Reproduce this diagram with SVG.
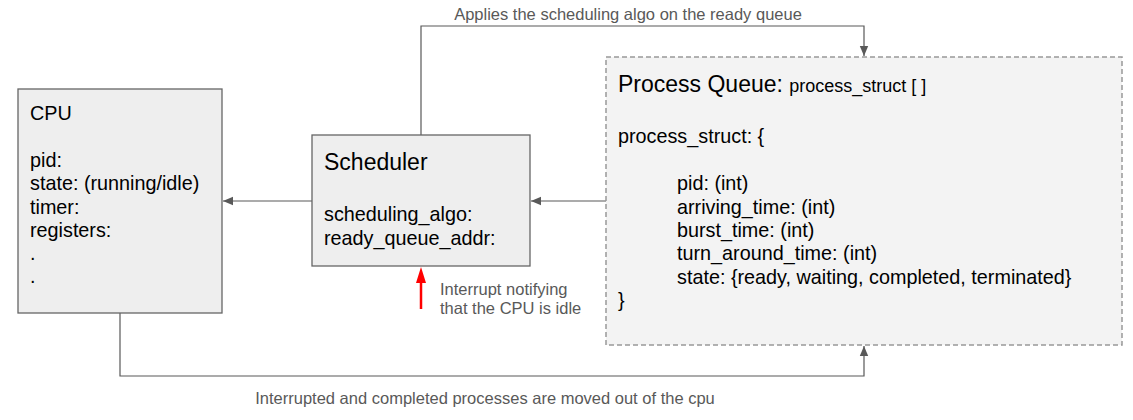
<svg xmlns="http://www.w3.org/2000/svg" width="1133" height="420" viewBox="0 0 1133 420">
<defs>
<style>
.box{fill:#eeeeee;stroke:#666666;stroke-width:1.3}
.pq{fill:#f3f3f3;stroke:#999999;stroke-width:1.5;stroke-dasharray:5,3}
.t{font-family:"Liberation Sans",Arial,sans-serif;font-size:19.8px;fill:#000}
.h{font-family:"Liberation Sans",Arial,sans-serif;font-size:23px;fill:#000}
.lbl{font-family:"Liberation Sans",Arial,sans-serif;font-size:16.5px;fill:#595959}
.c{fill:none;stroke:#595959;stroke-width:1.2}
</style>
<marker id="ah" markerWidth="10" markerHeight="10" viewBox="0 0 10 10" refX="10" refY="5" orient="auto" markerUnits="userSpaceOnUse">
<path d="M0,0.8 L10,5 L0,9.2 Z" fill="#595959"/>
</marker>
</defs>
<rect width="1133" height="420" fill="#ffffff"/>
<g id="connectors">
<path class="c" d="M312,201 H223" marker-end="url(#ah)"/>
<path class="c" d="M606,201 H531" marker-end="url(#ah)"/>
<path class="c" d="M421,135 V26 H864 V56" marker-end="url(#ah)"/>
<path class="c" d="M120,313 V376 H864 V346" marker-end="url(#ah)"/>
<text class="lbl" x="628" y="20" text-anchor="middle">Applies the scheduling algo on the ready queue</text>
<text class="lbl" x="485" y="404" text-anchor="middle">Interrupted and completed processes are moved out of the cpu</text>
</g>
<g id="interrupt">
<line x1="421" y1="309" x2="421" y2="282" stroke="#ff0000" stroke-width="2.5"/>
<path d="M421,267 L426,283 L416,283 Z" fill="#ff0000"/>
<text class="lbl" x="440" y="295">Interrupt notifying</text>
<text class="lbl" x="440" y="314">that the CPU is idle</text>
</g>
<g id="cpu">
<rect class="box" x="18" y="89" width="204" height="224"/>
<text class="t" x="30" y="120">CPU</text>
<text class="t" x="30" y="167">pid:</text>
<text class="t" x="30" y="190">state: (running/idle)</text>
<text class="t" x="30" y="214">timer:</text>
<text class="t" x="30" y="237">registers:</text>
<text class="t" x="30" y="260">.</text>
<text class="t" x="30" y="283">.</text>
</g>
<g id="scheduler">
<rect class="box" x="312" y="135" width="218" height="131"/>
<text class="h" x="324" y="170">Scheduler</text>
<text class="t" x="324" y="221">scheduling_algo:</text>
<text class="t" x="324" y="245">ready_queue_addr:</text>
</g>
<g id="process-queue">
<rect class="pq" x="606" y="57" width="516" height="288"/>
<text class="h" x="618" y="92">Process Queue: <tspan style="font-size:18px">process_struct [ ]</tspan></text>
<text class="t" x="618" y="143">process_struct: {</text>
<text class="t" x="677" y="190">pid: (int)</text>
<text class="t" x="677" y="214">arriving_time: (int)</text>
<text class="t" x="677" y="237">burst_time: (int)</text>
<text class="t" x="677" y="260">turn_around_time: (int)</text>
<text class="t" x="677" y="284">state: {ready, waiting, completed, terminated}</text>
<text class="t" x="618" y="307">}</text>
</g>
</svg>
